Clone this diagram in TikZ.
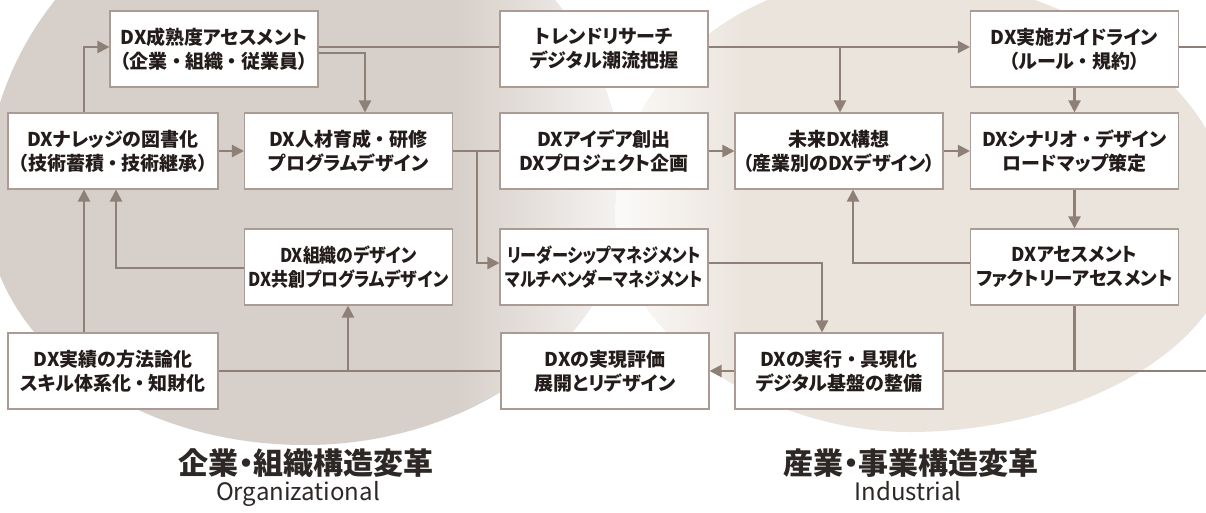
\documentclass[tikz,border=0pt]{standalone}
\usepackage{fontspec}
\setmainfont{Noto Sans CJK JP}[RawFeature=+palt]
\usetikzlibrary{arrows.meta}
\newcommand\NK{\hspace{0.22em}・\hspace{0.22em}}
\definecolor{lbase}{RGB}{215,207,201}
\definecolor{rbase}{RGB}{235,228,221}
\definecolor{linec}{RGB}{143,128,119}
\definecolor{boxc}{RGB}{170,156,148}
\definecolor{txt}{RGB}{35,28,26}
\definecolor{ttl}{RGB}{45,40,38}
\begin{document}
\begin{tikzpicture}[x=1pt,y=-1pt,
  boxnode/.style={draw=boxc, line width=1.1pt, fill=white, minimum width=208pt, minimum height=76pt,
    inner sep=0pt, align=center, text=txt, font=\fontsize{19}{24}\selectfont\bfseries},
  narrowbox/.style={boxnode, font=\fontsize{19}{24}\selectfont\bfseries\addfontfeatures{FakeStretch=#1}},
  conn/.style={draw=linec, line width=2.2pt},
  arr/.style={conn, -{Triangle[length=12pt,width=12pt]}},
  title/.style={text=ttl, font=\fontsize{30}{32}\selectfont\bfseries},
  subtitle/.style={text=ttl, font=\fontsize{24}{26}\selectfont, anchor=base}]
\useasboundingbox (0,0) rectangle (1206,512);
\fill[white] (0,0) rectangle (1206,512);
% left background blob
\begin{scope}
\clip (-15,200) arc[start angle=180, end angle=0, radius=320pt]
  .. controls (625,330) and (480,445) .. (305,445)
  .. controls (130,445) and (-15,340) .. (-15,200) -- cycle;
\fill[lbase] (-20,-130) rectangle (640,520);
\shade[left color=lbase, right color=lbase!22] (455,-130) rectangle (628,520);
\end{scope}
% right background blob
\begin{scope}
\clip (615,215) .. controls (615,80) and (740,-25) .. (890,-25)
  .. controls (1060,-25) and (1235,80) .. (1235,230)
  .. controls (1235,350) and (1070,432) .. (910,432)
  .. controls (760,432) and (615,330) .. (615,215) -- cycle;
\fill[rbase] (600,-100) rectangle (1240,520);
\shade[left color=rbase!15, right color=rbase] (612,-100) rectangle (745,520);
\end{scope}

% boxes
\node[boxnode] (seijuku) at (214,49) {DX成熟度アセスメント\\（企業\NK 組織\NK 従業員）};
\node[boxnode] (trend) at (604,49) {トレンドリサーチ\\デジタル潮流把握};
\node[boxnode] (guide) at (1074.5,49) {DX実施ガイドライン\\（ルール\NK 規約）};
\node[boxnode, minimum width=210pt] (knowledge) at (113,151) {DXナレッジの図書化\\（技術蓄積\NK 技術継承）};
\node[boxnode] (jinzai) at (348.5,151) {DX人材育成\NK 研修\\プログラムデザイン};
\node[boxnode] (idea) at (604,151) {DXアイデア創出\\DXプロジェクト企画};
\node[boxnode] (mirai) at (839,151) {未来DX構想\\（産業別のDXデザイン）};
\node[boxnode] (scenario) at (1074.5,151) {DXシナリオ\NK デザイン\\ロードマップ策定};
\node[narrowbox=0.89] (soshiki) at (348.5,267) {DX組織のデザイン\\DX共創プログラムデザイン};
\node[narrowbox=0.85] (leader) at (604,267) {リーダーシップマネジメント\\マルチベンダーマネジメント};
\node[narrowbox=0.97] (assess) at (1074.5,267) {DXアセスメント\\ファクトリーアセスメント};
\node[boxnode, minimum width=210pt] (houhou) at (113,371) {DX実績の方法論化\\スキル体系化\NK 知財化};
\node[boxnode] (hyouka) at (605,371) {DXの実現評価\\展開とリデザイン};
\node[boxnode] (jikkou) at (839,371) {DXの実行\NK 具現化\\デジタル基盤の整備};

% helper coordinates
\coordinate (cA) at (84,0);
\coordinate (cB) at (116,0);
\coordinate (cC) at (365,0);
\coordinate (cD) at (348,0);
\coordinate (cE) at (477,0);
\coordinate (cF) at (840,0);
\coordinate (cG) at (822,0);
\coordinate (cH) at (853,0);
\coordinate (r47) at (0,47);
\coordinate (r53) at (0,53);
\coordinate (r263) at (0,263);
\coordinate (r268) at (0,268);
\coordinate (edgeA) at (1206,47);
\coordinate (edgeB) at (1206,371);

% connectors
\draw[arr] (knowledge.north -| cA) |- (seijuku.west |- r47);
\draw[conn] (seijuku.east |- r47) -- (trend.west |- r47);
\draw[arr] (trend.east |- r47) -- (guide.west |- r47);
\draw[arr] (r47 -| cF) -- (mirai.north -| cF);
\draw[conn] (guide.east |- r47) -- (edgeA);
\draw[arr] (seijuku.east |- r53) -| (jinzai.north -| cC);
\draw[arr] (knowledge.east) -- (jinzai.west);
\draw[conn] (jinzai.east) -- (idea.west);
\draw[arr] (jinzai.east -| cE) |- (leader.west |- r263);
\draw[arr] (idea.east) -- (mirai.west);
\draw[arr] (mirai.east) -- (scenario.west);
\draw[arr] (guide.south) -- (scenario.north);
\draw[arr] (scenario.south) -- (assess.north);
\draw[arr] (assess.west |- r263) -| (mirai.south -| cH);
\draw[conn] (assess.south) -- (assess.south |- edgeB);
\draw[conn] (jikkou.east) -- (edgeB);
\draw[arr] (leader.east |- r263) -| (jikkou.north -| cG);
\draw[arr] (jikkou.west) -- (hyouka.east);
\draw[conn] (hyouka.west) -- (houhou.east);
\draw[arr] (houhou.east -| cD) -- (soshiki.south -| cD);
\draw[arr] (houhou.north -| cA) -- (knowledge.south -| cA);
\draw[arr] (soshiki.west |- r268) -| (knowledge.south -| cB);

% titles
\node[title] (tleft) at (306,463) {企業・組織構造変革};
\node[subtitle] (sleft) at (298,500) {Organizational};
\node[title] (tright) at (911,463) {産業・事業構造変革};
\node[subtitle] (sright) at (908,500) {Industrial};
\end{tikzpicture}
\end{document}
